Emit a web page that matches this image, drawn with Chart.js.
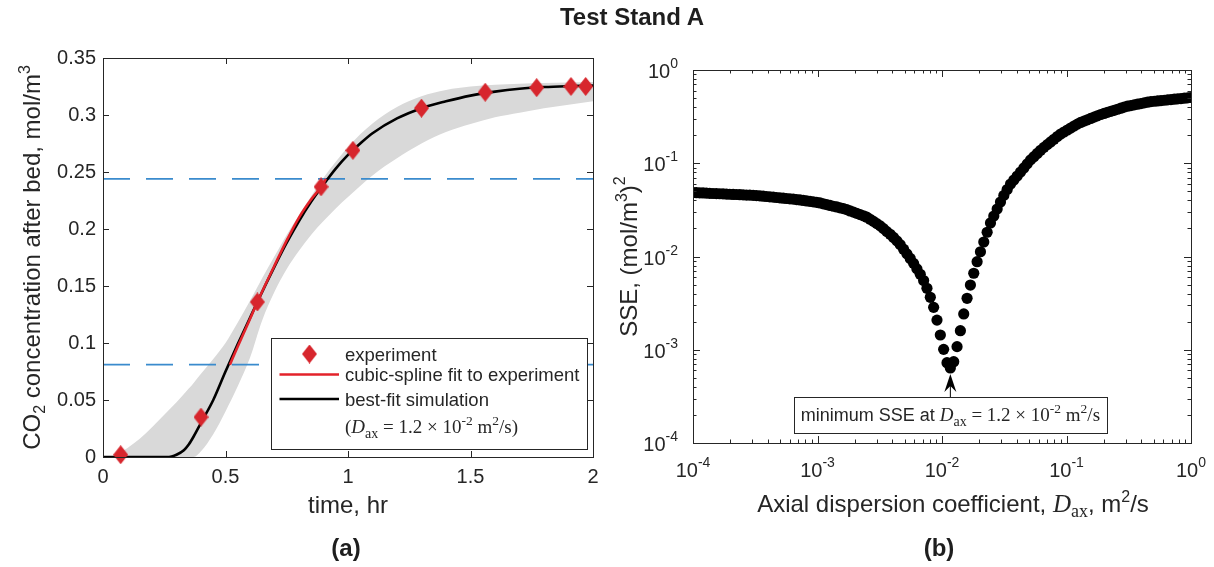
<!DOCTYPE html>
<html><head><meta charset="utf-8">
<script src="https://cdn.jsdelivr.net/npm/chart.js@4.4.1/dist/chart.umd.min.js"></script>
<style>
html,body{margin:0;padding:0;background:#fff;width:1214px;height:567px;overflow:hidden;}
#wrap{position:relative;width:1214px;height:567px;}
canvas{position:absolute;top:0;}
.lbl{position:absolute;font-family:'Liberation Sans',Arial,Helvetica,sans-serif;font-weight:bold;color:#1e1e1e;white-space:nowrap;transform:translate(-50%,-50%);line-height:1;}
</style></head><body>
<div id="wrap">
<canvas id="cA" width="607" height="567" style="left:0"></canvas>
<canvas id="cB" width="607" height="567" style="left:607px"></canvas>
<div class="lbl" style="left:632px;top:17px;font-size:24px">Test Stand A</div>
<div class="lbl" style="left:346px;top:548px;font-size:24px">(a)</div>
<div class="lbl" style="left:939px;top:548px;font-size:24px">(b)</div>
</div>
<script>
// ---------- (a) breakthrough data ----------
const expTime = [0.072, 0.40, 0.63, 0.89, 1.02, 1.30, 1.56, 1.77, 1.91, 1.97];
const expConc = [0.002, 0.035, 0.136, 0.237, 0.269, 0.306, 0.320, 0.324, 0.325, 0.325];
const simTime = [0, 0.1, 0.2, 0.26, 0.28, 0.30, 0.33, 0.35, 0.37, 0.40, 0.45, 0.50, 0.55, 0.60, 0.63, 0.70, 0.75, 0.80, 0.85, 0.90, 0.95, 1.0, 1.05, 1.1, 1.2, 1.3, 1.4, 1.5, 1.6, 1.7, 1.8, 1.9, 2.0];
const simConc = [0, 0, 0, 0, 0.0005, 0.002, 0.006, 0.011, 0.018, 0.030, 0.050, 0.075, 0.099, 0.122, 0.136, 0.167, 0.188, 0.207, 0.224, 0.239, 0.253, 0.265, 0.275, 0.284, 0.297, 0.306, 0.312, 0.317, 0.3205, 0.323, 0.3245, 0.3253, 0.3258];
const splineTime = [0.518, 0.55, 0.60, 0.63, 0.70, 0.75, 0.80, 0.85, 0.89, 0.91];
const splineConc = [0.081, 0.097, 0.121, 0.136, 0.168, 0.190, 0.210, 0.226, 0.237, 0.244];
const bandTime  = [0, 0.02, 0.05, 0.1, 0.15, 0.2, 0.25, 0.3, 0.35, 0.37, 0.4, 0.45, 0.5, 0.55, 0.6, 0.65, 0.7, 0.75, 0.8, 0.85, 0.9, 0.95, 1.0, 1.1, 1.2, 1.3, 1.4, 1.5, 1.6, 1.7, 1.8, 1.9, 2.0];
const bandUpper = [0, 0, 0.002, 0.008, 0.016, 0.026, 0.037, 0.048, 0.060, 0.065, 0.073, 0.086, 0.100, 0.118, 0.137, 0.157, 0.176, 0.195, 0.212, 0.229, 0.245, 0.259, 0.272, 0.2925, 0.307, 0.3165, 0.322, 0.325, 0.3265, 0.3275, 0.328, 0.3285, 0.329];
const bandLower = [0, 0, 0, 0, 0, 0, 0, 0, 0, 0, 0.005, 0.020, 0.040, 0.062, 0.087, 0.120, 0.145, 0.165, 0.181, 0.195, 0.207, 0.218, 0.228, 0.247, 0.262, 0.275, 0.285, 0.292, 0.298, 0.302, 0.306, 0.309, 0.312];
const levelHigh = 0.244;
const levelLow = 0.081;
const timeTicks = [0, 0.5, 1, 1.5, 2];
const timeTickLabels = ['0', '0.5', '1', '1.5', '2'];
const concTicks = [0, 0.05, 0.1, 0.15, 0.2, 0.25, 0.3, 0.35];
const concTickLabels = ['0', '0.05', '0.1', '0.15', '0.2', '0.25', '0.3', '0.35'];

// ---------- (b) SSE vs axial dispersion ----------
const dax = [
 1.000e-4,1.064e-4,1.132e-4,1.204e-4,1.281e-4,1.362e-4,1.449e-4,1.541e-4,1.640e-4,1.744e-4,1.855e-4,1.974e-4,2.100e-4,2.234e-4,2.376e-4,2.527e-4,2.689e-4,2.860e-4,3.042e-4,3.236e-4,3.443e-4,3.662e-4,3.896e-4,4.144e-4,4.409e-4,4.690e-4,4.989e-4,5.307e-4,5.645e-4,6.005e-4,6.388e-4,6.795e-4,7.229e-4,7.690e-4,8.180e-4,8.702e-4,9.256e-4,9.847e-4,
 1.047e-3,1.114e-3,1.185e-3,1.261e-3,1.341e-3,1.427e-3,1.518e-3,1.615e-3,1.718e-3,1.827e-3,1.944e-3,2.067e-3,2.199e-3,2.340e-3,2.489e-3,2.647e-3,2.816e-3,2.996e-3,3.187e-3,3.390e-3,3.606e-3,3.836e-3,4.081e-3,4.341e-3,4.618e-3,4.912e-3,5.225e-3,5.559e-3,5.913e-3,6.290e-3,6.691e-3,7.118e-3,7.572e-3,8.055e-3,8.568e-3,9.115e-3,9.696e-3,
 1.031e-2,1.097e-2,1.167e-2,1.242e-2,1.321e-2,1.405e-2,1.495e-2,1.590e-2,1.691e-2,1.799e-2,1.914e-2,2.036e-2,2.166e-2,2.304e-2,2.451e-2,2.607e-2,2.773e-2,2.950e-2,3.138e-2,3.338e-2,3.551e-2,3.777e-2,4.018e-2,4.274e-2,4.547e-2,4.837e-2,5.145e-2,5.474e-2,5.823e-2,6.194e-2,6.589e-2,7.009e-2,7.456e-2,7.931e-2,8.437e-2,8.975e-2,9.547e-2,
 1.016e-1,1.080e-1,1.149e-1,1.223e-1,1.300e-1,1.383e-1,1.472e-1,1.565e-1,1.665e-1,1.771e-1,1.884e-1,2.005e-1,2.132e-1,2.268e-1,2.413e-1,2.567e-1,2.731e-1,2.905e-1,3.090e-1,3.287e-1,3.497e-1,3.719e-1,3.957e-1,4.209e-1,4.477e-1,4.763e-1,5.067e-1,5.390e-1,5.733e-1,6.099e-1,6.488e-1,6.901e-1,7.342e-1,7.810e-1,8.308e-1,8.837e-1,9.401e-1,
 1.0];
const sse = [
 0.0485,0.0483,0.0482,0.0480,0.0478,0.0476,0.0474,0.0472,0.0471,0.0469,0.0467,0.0465,0.0463,0.0462,0.0460,0.0458,0.0456,0.0455,0.0453,
 0.0450,0.0447,0.0443,0.0440,0.0436,0.0433,0.0429,0.0426,0.0422,0.0419,0.0415,0.0412,
 0.0408,0.0404,0.0399,0.0394,0.0390,0.0386,0.0381,
 0.0375,0.0367,0.0360,0.0353,0.0346,0.0340,0.0333,0.0326,
 0.0318,0.0308,0.0299,0.0290,0.0281,0.0273,0.0264,
 0.0251,0.0238,0.0225,
 0.0213,0.0199,0.0185,0.0173,
 0.0160,0.0147,
 0.0134,0.01197,0.01068,0.00953,
 0.00844,
 0.00736,0.00644,
 0.00553,
 0.00456,0.00365,0.00285,0.00208,0.00144,0.00101,0.000726,0.000637,0.000745,0.00108,0.00160,0.00242,0.00356,0.00494,0.00661,0.00879,0.01125,
 0.0143,0.0182,
 0.0229,0.0272,0.0323,0.0384,
 0.0452,0.0522,
 0.0598,0.0661,0.0730,
 0.0806,0.0891,0.0985,
 0.1086,0.1176,0.1274,0.1379,
 0.1480,0.1583,0.1692,0.1809,0.1934,
 0.2060,0.2163,0.2272,0.2386,0.2504,0.2630,
 0.2738,0.2830,0.2925,0.3023,0.3124,0.3229,
 0.3331,0.3419,0.3509,0.3602,0.3696,0.3794,0.3894,0.3995,
 0.4090,0.4159,0.4228,0.4297,0.4369,0.4441,0.4516,
 0.4581,0.4620,0.4659,0.4698,0.4738,0.4779,0.4820,0.4860,0.4901,0.4943,0.4985,0.5027,0.5070];
const logTicks = [1e-4, 1e-3, 1e-2, 1e-1, 1];
const logTickBase = '10';
const logTickExponents = ['-4', '-3', '-2', '-1', '0'];

// ---------- styling helpers ----------
const SANS = "'Liberation Sans', Arial, Helvetica, sans-serif";
const SERIF = "'Liberation Serif', 'Times New Roman', Times, serif";
const INK = '#262626';
const f = (size, fam, style) => (style ? style + ' ' : '') + size + 'px ' + fam;

function drawRich(ctx, segs, x, y, align, rot) {
  ctx.save();
  ctx.translate(x, y);
  if (rot) ctx.rotate(rot);
  let w = 0;
  segs.forEach(s => { ctx.font = s.font; w += ctx.measureText(s.t).width; });
  let cx = align === 'center' ? -w / 2 : (align === 'right' ? -w : 0);
  ctx.textBaseline = 'alphabetic'; ctx.textAlign = 'left'; ctx.fillStyle = INK;
  segs.forEach(s => { ctx.font = s.font; ctx.fillText(s.t, cx, s.dy || 0); cx += ctx.measureText(s.t).width; });
  ctx.restore();
}

function makeDiamond(w, h, color) {
  const c = document.createElement('canvas');
  c.width = w; c.height = h;
  const g = c.getContext('2d');
  g.fillStyle = color;
  g.beginPath(); g.moveTo(w / 2, 0); g.lineTo(w, h / 2); g.lineTo(w / 2, h); g.lineTo(0, h / 2); g.closePath(); g.fill();
  return c;
}
const diamond = makeDiamond(15, 19, '#d7262d');
const RED = '#e3222a';
const BLUE = '#3a8bcd';

function frameTicks(len, minorLen) {
  return {
    id: 'frameTicks',
    afterDatasetsDraw(chart) {
      const ctx = chart.ctx, a = chart.chartArea, xs = chart.scales.x, ys = chart.scales.y;
      ctx.save();
      ctx.strokeStyle = INK; ctx.lineWidth = 1;
      ctx.beginPath();
      xs.ticks.forEach(t => {
        const p = Math.round(xs.getPixelForValue(t.value)) + 0.5;
        const L = t.major ? len : minorLen;
        ctx.moveTo(p, a.bottom); ctx.lineTo(p, a.bottom - L);
        ctx.moveTo(p, a.top); ctx.lineTo(p, a.top + L);
      });
      ys.ticks.forEach(t => {
        const p = Math.round(ys.getPixelForValue(t.value)) + 0.5;
        const L = t.major ? len : minorLen;
        ctx.moveTo(a.left, p); ctx.lineTo(a.left + L, p);
        ctx.moveTo(a.right, p); ctx.lineTo(a.right - L, p);
      });
      ctx.stroke();
      ctx.strokeRect(Math.round(a.left) + 0.5, Math.round(a.top) + 0.5, Math.round(a.right - a.left), Math.round(a.bottom - a.top));
      ctx.restore();
    }
  };
}

const tickFont = { family: SANS, size: 20 };

// ---------- chart (a) ----------
const decorA = {
  id: 'decorA',
  afterDatasetsDraw(chart) {
    const ctx = chart.ctx, a = chart.chartArea;
    const midY = (a.top + a.bottom) / 2;
    drawRich(ctx, [
      { t: 'CO', font: f(24, SANS) },
      { t: '2', font: f(16, SANS), dy: 5 },
      { t: ' concentration after bed, mol/m', font: f(24, SANS) },
      { t: '3', font: f(16, SANS), dy: -10 }
    ], a.left - 63, midY, 'center', -Math.PI / 2);
    drawRich(ctx, [{ t: 'time, hr', font: f(24, SANS) }], (a.left + a.right) / 2, a.bottom + 56, 'center');
    // legend
    const bx = a.right - 322, by = a.bottom - 119, bw = 316, bh = 111;
    ctx.save();
    ctx.fillStyle = '#fff'; ctx.fillRect(bx, by, bw, bh);
    ctx.strokeStyle = INK; ctx.lineWidth = 1; ctx.strokeRect(bx + 0.5, by + 0.5, bw, bh);
    ctx.drawImage(diamond, bx + 38.5 - diamond.width / 2, by + 16 - diamond.height / 2);
    ctx.lineWidth = 2.6;
    ctx.strokeStyle = RED; ctx.beginPath(); ctx.moveTo(bx + 8.5, by + 36.5); ctx.lineTo(bx + 68, by + 36.5); ctx.stroke();
    ctx.strokeStyle = '#000'; ctx.beginPath(); ctx.moveTo(bx + 8.5, by + 61); ctx.lineTo(bx + 68, by + 61); ctx.stroke();
    ctx.restore();
    const tx = bx + 74, lf = f(18.5, SANS);
    drawRich(ctx, [{ t: 'experiment', font: lf }], tx, by + 22.5, 'left');
    drawRich(ctx, [{ t: 'cubic-spline fit to experiment', font: lf }], tx, by + 43, 'left');
    drawRich(ctx, [{ t: 'best-fit simulation', font: lf }], tx, by + 67.5, 'left');
    drawRich(ctx, [
      { t: '(', font: f(19, SERIF) },
      { t: 'D', font: f(19, SERIF, 'italic') },
      { t: 'ax', font: f(14, SERIF), dy: 5 },
      { t: ' = 1.2 \u00D7 10', font: f(19, SERIF) },
      { t: '-2', font: f(13.5, SERIF), dy: -8 },
      { t: ' m', font: f(19, SERIF) },
      { t: '2', font: f(13.5, SERIF), dy: -8 },
      { t: '/s)', font: f(19, SERIF) }
    ], tx, by + 95, 'left');
  }
};

new Chart(document.getElementById('cA'), {
  type: 'line',
  data: {
    datasets: [
      { label: 'band upper', data: bandTime.map((t, i) => ({ x: t, y: bandUpper[i] })), borderWidth: 0, pointRadius: 0, fill: '+1', backgroundColor: '#d9d9d9', cubicInterpolationMode: 'monotone', order: 10 },
      { label: 'band lower', data: bandTime.map((t, i) => ({ x: t, y: bandLower[i] })), borderWidth: 0, pointRadius: 0, fill: false, cubicInterpolationMode: 'monotone', order: 10 },
      { label: 'level high', data: [{ x: 0, y: levelHigh }, { x: 2, y: levelHigh }], borderColor: BLUE, borderWidth: 1.8, borderDash: [27, 16], pointRadius: 0, fill: false, order: 5 },
      { label: 'level low', data: [{ x: 0, y: levelLow }, { x: 2, y: levelLow }], borderColor: BLUE, borderWidth: 1.8, borderDash: [27, 16], pointRadius: 0, fill: false, order: 5 },
      { label: 'best-fit simulation', data: simTime.map((t, i) => ({ x: t, y: simConc[i] })), borderColor: '#000', borderWidth: 2.6, pointRadius: 0, fill: false, cubicInterpolationMode: 'monotone', order: 3 },
      { label: 'cubic-spline fit to experiment', data: splineTime.map((t, i) => ({ x: t, y: splineConc[i] })), borderColor: RED, borderWidth: 2.6, pointRadius: 0, fill: false, cubicInterpolationMode: 'monotone', order: 2 },
      { label: 'experiment', data: expTime.map((t, i) => ({ x: t, y: expConc[i] })), showLine: false, pointStyle: diamond, pointRadius: 9, fill: false, clip: false, order: 1 }
    ]
  },
  options: {
    responsive: false, animation: false, devicePixelRatio: 1, events: [],
    layout: { padding: { top: 58, right: 14, left: 0, bottom: 0 }, autoPadding: false },
    scales: {
      x: {
        type: 'linear', min: 0, max: 2,
        grid: { display: false, drawTicks: false }, border: { display: false },
        afterBuildTicks: s => { s.ticks = timeTicks.map(v => ({ value: v, major: true })); },
        afterFit: s => { s.height = 110; s.paddingLeft = 0; s.paddingRight = 0; },
        ticks: { font: tickFont, color: INK, padding: 8, maxRotation: 0, autoSkip: false, callback: (v, i) => timeTickLabels[i] }
      },
      y: {
        type: 'linear', min: 0, max: 0.35,
        grid: { display: false, drawTicks: false }, border: { display: false },
        afterBuildTicks: s => { s.ticks = concTicks.map(v => ({ value: v, major: true })); },
        afterFit: s => { s.width = 103; s.paddingTop = 0; s.paddingBottom = 0; },
        ticks: { font: tickFont, color: INK, padding: 7, autoSkip: false, callback: (v, i) => concTickLabels[i] }
      }
    },
    plugins: { legend: { display: false }, tooltip: { enabled: false }, filler: { propagate: false, drawTime: 'beforeDatasetsDraw' } }
  },
  plugins: [frameTicks(6, 6), decorA]
});

// ---------- chart (b) ----------
const minIdx = sse.indexOf(Math.min(...sse));
const decorB = {
  id: 'decorB',
  afterDatasetsDraw(chart) {
    const ctx = chart.ctx, a = chart.chartArea, xs = chart.scales.x, ys = chart.scales.y;
    const midY = (a.top + a.bottom) / 2;
    // log tick labels 10^n drawn at the scale's tick positions
    logTicks.forEach((v, i) => {
      const segs = [{ t: logTickBase, font: f(20, SANS) }, { t: logTickExponents[i], font: f(14, SANS), dy: -10 }];
      drawRich(ctx, segs, xs.getPixelForValue(v), a.bottom + 34, 'center');
      drawRich(ctx, segs, a.left - 15, ys.getPixelForValue(v) + 8, 'right');
    });
    drawRich(ctx, [
      { t: 'SSE, (mol/m', font: f(24, SANS) },
      { t: '3', font: f(16, SANS), dy: -10 },
      { t: ')', font: f(24, SANS) },
      { t: '2', font: f(16, SANS), dy: -12 }
    ], a.left - 56, midY, 'center', -Math.PI / 2);
    drawRich(ctx, [
      { t: 'Axial dispersion coefficient, ', font: f(24, SANS) },
      { t: 'D', font: f(25, SERIF, 'italic') },
      { t: 'ax', font: f(18, SERIF), dy: 5 },
      { t: ', m', font: f(24, SANS) },
      { t: '2', font: f(16, SANS), dy: -10 },
      { t: '/s', font: f(24, SANS) }
    ], (a.left + a.right) / 2 + 11, a.bottom + 69, 'center');
    // annotation arrow + box
    const px = xs.getPixelForValue(dax[minIdx]);
    const tipY = ys.getPixelForValue(sse[minIdx]) + 6;
    const boxTop = a.bottom - 46, boxH = 36, boxW = 313;
    ctx.save();
    ctx.fillStyle = '#000'; ctx.strokeStyle = '#000'; ctx.lineWidth = 1;
    ctx.beginPath(); ctx.moveTo(px, boxTop); ctx.lineTo(px, tipY + 10); ctx.stroke();
    ctx.beginPath(); ctx.moveTo(px, tipY); ctx.lineTo(px + 6, tipY + 18); ctx.lineTo(px, tipY + 12); ctx.lineTo(px - 6, tipY + 18); ctx.closePath(); ctx.fill();
    const bx = Math.round(px - boxW / 2);
    ctx.fillStyle = '#fff'; ctx.fillRect(bx, boxTop, boxW, boxH);
    ctx.strokeStyle = INK; ctx.strokeRect(bx + 0.5, boxTop + 0.5, boxW, boxH);
    ctx.restore();
    drawRich(ctx, [
      { t: 'minimum SSE at ', font: f(18, SANS) },
      { t: 'D', font: f(19, SERIF, 'italic') },
      { t: 'ax', font: f(14, SERIF), dy: 5 },
      { t: ' = 1.2 \u00D7 10', font: f(19, SERIF) },
      { t: '-2', font: f(13.5, SERIF), dy: -8 },
      { t: ' m', font: f(19, SERIF) },
      { t: '2', font: f(13.5, SERIF), dy: -8 },
      { t: '/s', font: f(19, SERIF) }
    ], px, boxTop + 24, 'center');
  }
};

const logTickValues = [];
for (let e = -4; e < 0; e++) for (let m = 1; m <= 9; m++) logTickValues.push(m * Math.pow(10, e));
logTickValues.push(1);
const isPow10 = v => Math.abs(Math.log10(v) - Math.round(Math.log10(v))) < 1e-9;

new Chart(document.getElementById('cB'), {
  type: 'scatter',
  data: {
    datasets: [
      { label: 'SSE', data: dax.map((d, i) => ({ x: d, y: sse[i] })), backgroundColor: '#000', borderWidth: 0, pointRadius: 5.6, clip: 0 }
    ]
  },
  options: {
    responsive: false, animation: false, devicePixelRatio: 1, events: [],
    layout: { padding: { top: 70, right: 23, left: 0, bottom: 0 }, autoPadding: false },
    scales: {
      x: {
        type: 'logarithmic', min: 1e-4, max: 1,
        grid: { display: false, drawTicks: false }, border: { display: false },
        afterBuildTicks: s => { s.ticks = logTickValues.map(v => ({ value: v, major: isPow10(v) })); },
        afterFit: s => { s.height = 124; s.paddingLeft = 0; s.paddingRight = 0; },
        ticks: { display: false }
      },
      y: {
        type: 'logarithmic', min: 1e-4, max: 1,
        grid: { display: false, drawTicks: false }, border: { display: false },
        afterBuildTicks: s => { s.ticks = logTickValues.map(v => ({ value: v, major: isPow10(v) })); },
        afterFit: s => { s.width = 86; s.paddingTop = 0; s.paddingBottom = 0; },
        ticks: { display: false }
      }
    },
    plugins: { legend: { display: false }, tooltip: { enabled: false } }
  },
  plugins: [frameTicks(7, 3.5), decorB]
});
</script>
</body></html>
